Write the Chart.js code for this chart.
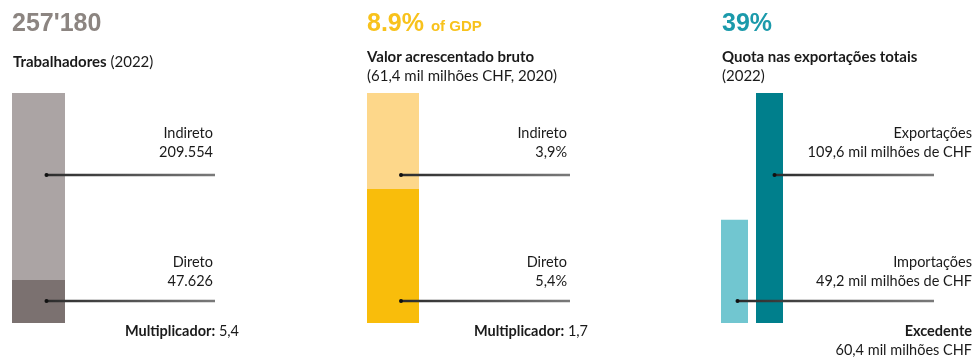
<!DOCTYPE html>
<html>
<head>
<meta charset="utf-8">
<script src="https://cdn.jsdelivr.net/npm/chart.js@4"></script>
<style>
  html, body { margin: 0; padding: 0; background: #fff; }
  body { width: 978px; height: 360px; position: relative; overflow: hidden; font-family: Lato, "Noto Sans", sans-serif; color: #1a1a1a; }
  .painel { position: absolute; top: 0; height: 360px; }
  .painel canvas { position: absolute; left: 0; top: 0; }
  .t { position: absolute; white-space: nowrap; font-size: 14.5px; line-height: 19px; }
  .sub { font-size: 15px; }
  .dir { text-align: right; }
  .big { position: absolute; top: 7px; font-family: "Liberation Sans", Arial, sans-serif; font-weight: bold; font-size: 25px; line-height: 30px; white-space: nowrap; }
  .big small { font-size: 15px; }
  b { font-weight: bold; }
</style>
</head>
<body>

<!-- painel 1: trabalhadores -->
<div class="painel" id="p1" style="left:0;width:330px">
  <canvas id="grafico1" width="330" height="360"></canvas>
  <div class="big" style="left:12px;color:#8c8581">257'180</div>
  <div class="t sub" style="left:13px;top:52px"><b>Trabalhadores</b> (2022)</div>
  <div class="t dir" style="right:117px;top:123px">Indireto<br>209.554</div>
  <div class="t dir" style="right:117px;top:252px">Direto<br>47.626</div>
  <div class="t dir" style="right:91px;top:321px"><b>Multiplicador:</b> 5,4</div>
</div>

<!-- painel 2: valor acrescentado -->
<div class="painel" id="p2" style="left:330px;width:330px">
  <canvas id="grafico2" width="330" height="360"></canvas>
  <div class="big" style="left:37px;color:#f8c21c">8.9% <small>of GDP</small></div>
  <div class="t sub" style="left:37px;top:47px"><b>Valor acrescentado bruto</b><br>(61,4 mil milhões CHF, 2020)</div>
  <div class="t dir" style="right:93px;top:123px">Indireto<br>3,9%</div>
  <div class="t dir" style="right:93px;top:252px">Direto<br>5,4%</div>
  <div class="t dir" style="right:72px;top:321px"><b>Multiplicador:</b> 1,7</div>
</div>

<!-- painel 3: exportações -->
<div class="painel" id="p3" style="left:660px;width:318px">
  <canvas id="grafico3" width="318" height="360"></canvas>
  <div class="big" style="left:62px;color:#1b9aab">39%</div>
  <div class="t sub" style="left:62px;top:47px"><b>Quota nas exportações totais</b><br>(2022)</div>
  <div class="t dir" style="right:6px;top:123px">Exportações<br>109,6 mil milhões de CHF</div>
  <div class="t dir" style="right:6px;top:252px">Importações<br>49,2 mil milhões de CHF</div>
  <div class="t dir" style="right:6px;top:321px"><b>Excedente</b><br>60,4 mil milhões CHF</div>
</div>

<script>
// --- Dados ---
const trabalhadoresDireto = [47626];
const trabalhadoresIndireto = [209554];

const vabDireto = [5.4];
const vabIndireto = [3.9];

const comercioCategorias = ['Importações', 'Exportações'];
const comercioValores = [49.2, 109.6];

// linhas de chamada (desenhadas por cima das barras)
// cada linha: distância ao fundo da área, barra de origem, deslocamento, fim relativo à área
function linhasPlugin(linhas) {
    return {
        id: 'linhas',
        afterDatasetsDraw(chart) {
            const ctx = chart.ctx;
            const area = chart.chartArea;
            linhas.forEach(l => {
                const barra = chart.getDatasetMeta(l.dataset).data[l.indice];
                const x0 = barra.x + l.dx;
                const x1 = area.left + l.fim;
                const y = area.bottom - l.acima;
                const grad = ctx.createLinearGradient(x0, 0, x1, 0);
                grad.addColorStop(0, '#2b2b2b');
                grad.addColorStop(1, '#7a7a7a');
                ctx.save();
                ctx.strokeStyle = grad;
                ctx.lineWidth = 2.5;
                ctx.beginPath();
                ctx.moveTo(x0, y);
                ctx.lineTo(x1, y);
                ctx.stroke();
                ctx.fillStyle = '#111';
                ctx.beginPath();
                ctx.arc(x0 + 1, y, 2, 0, Math.PI * 2);
                ctx.fill();
                ctx.restore();
            });
        }
    };
}

function opcoes(maximo, padding, pctBarra) {
    return {
        responsive: false,
        animation: false,
        layout: { padding: padding },
        scales: {
            x: { display: false, stacked: true, barPercentage: pctBarra, categoryPercentage: 1 },
            y: { display: false, stacked: true, min: 0, max: maximo }
        },
        plugins: { legend: { display: false }, tooltip: { enabled: false } }
    };
}

// painel 1
new Chart(document.getElementById('grafico1'), {
    type: 'bar',
    data: {
        labels: ['Trabalhadores'],
        datasets: [
            { label: 'Direto', data: trabalhadoresDireto, backgroundColor: '#7b7170', barPercentage: 1, categoryPercentage: 1 },
            { label: 'Indireto', data: trabalhadoresIndireto, backgroundColor: '#aba4a4', barPercentage: 1, categoryPercentage: 1 }
        ]
    },
    options: opcoes(trabalhadoresDireto[0] + trabalhadoresIndireto[0], { left: 12, right: 265, top: 93, bottom: 37 }, 1),
    plugins: [linhasPlugin([
        { dataset: 1, indice: 0, dx: 7, fim: 203, acima: 148 },
        { dataset: 0, indice: 0, dx: 7, fim: 203, acima: 22 }
    ])]
});

// painel 2
new Chart(document.getElementById('grafico2'), {
    type: 'bar',
    data: {
        labels: ['VAB'],
        datasets: [
            { label: 'Direto', data: vabDireto, backgroundColor: '#f9bd0b', barPercentage: 1, categoryPercentage: 1 },
            { label: 'Indireto', data: vabIndireto, backgroundColor: '#fdd78a', barPercentage: 1, categoryPercentage: 1 }
        ]
    },
    options: opcoes(vabDireto[0] + vabIndireto[0], { left: 37, right: 241, top: 93, bottom: 37 }, 1),
    plugins: [linhasPlugin([
        { dataset: 1, indice: 0, dx: 7, fim: 203, acima: 148 },
        { dataset: 0, indice: 0, dx: 7, fim: 203, acima: 22 }
    ])]
});

// painel 3
const op3 = opcoes(Math.max(...comercioValores), { left: 57, right: 191, top: 93, bottom: 37 }, 27 / 35);
op3.scales.x.stacked = false;
op3.scales.y.stacked = false;
new Chart(document.getElementById('grafico3'), {
    type: 'bar',
    data: {
        labels: comercioCategorias,
        datasets: [
            { label: 'Comércio', data: comercioValores, backgroundColor: ['#71c6d0', '#007f8c'], barPercentage: 27 / 35, categoryPercentage: 1 }
        ]
    },
    options: op3,
    plugins: [linhasPlugin([
        { dataset: 0, indice: 1, dx: 4, fim: 217, acima: 148 },
        { dataset: 0, indice: 0, dx: 2, fim: 217, acima: 22 }
    ])]
});
</script>
</body>
</html>
